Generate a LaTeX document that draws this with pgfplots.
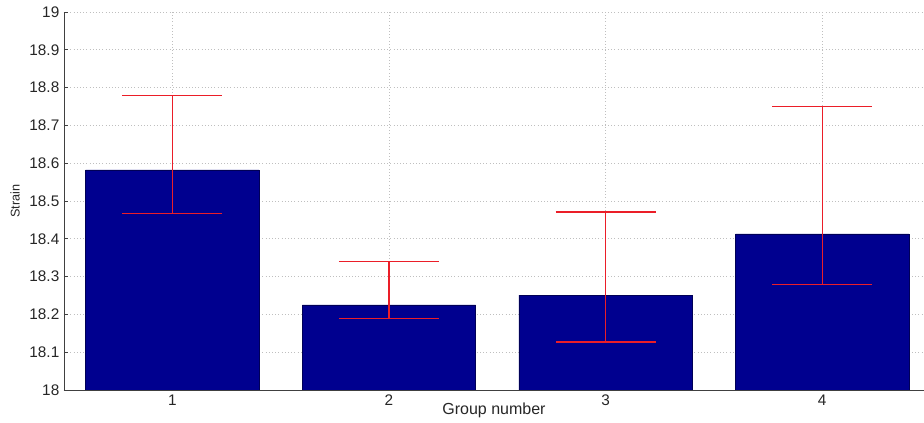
\documentclass[border=0pt]{standalone}
\usepackage{pgfplots}
\pgfplotsset{compat=1.18}
\usepackage{fontspec}
\setmainfont{Liberation Sans}
\definecolor{barblue}{RGB}{0,0,143}
\definecolor{errred}{RGB}{235,30,40}
\begin{document}
\begin{tikzpicture}
\path[use as bounding box] (-48pt,-24.75pt) rectangle (645pt,292.5pt);
\begin{axis}[
  at={(0,0)}, anchor=south west,
  scale only axis, width=645pt, height=283.5pt,
  xmin=0.5, xmax=4.47, ymin=18, ymax=19,
  axis x line*=bottom, axis y line*=left,
  axis line style={black!75, line width=0.7pt, -},
  xtick={1,2,3,4}, ytick={18,18.1,...,19.01},
  yticklabels={18,18.1,18.2,18.3,18.4,18.5,18.6,18.7,18.8,18.9,19},
  tick align=inside, major tick length=3pt,
  tick style={black!75, line width=0.5pt},
  grid=major, major grid style={gray!50, dotted, line width=0.5pt},
  /pgf/number format/assume math mode=true,
  tick label style={font=\fontsize{11.5}{13}\selectfont, text=black!85},
  xlabel={Group number}, ylabel={Strain},
  xlabel style={font=\fontsize{12}{14}\selectfont, text=black!85, at={(axis description cs:0.5,0)}, anchor=center, yshift=-15.5pt},
  ylabel style={font=\fontsize{9.5}{11}\selectfont, text=black!85, at={(axis description cs:-0.057,0.5)}, anchor=center},
  clip=true,
]
\addplot[ybar, bar width=0.8, fill=barblue, draw=barblue!60!black, line width=0.4pt]
  table[x=x, y=y] {
x y
1 18.582
2 18.225
3 18.251
4 18.413
};
\addplot[draw=none, mark=none, line width=0.85pt,
  error bars/.cd, y dir=both, y explicit,
  error bar style={draw=errred, line width=0.85pt, solid},
  error mark options={errred, line width=0.85pt, mark size=37.5pt, rotate=90}]
  table[x=x, y=y, y error plus=ep, y error minus=em] {
x y ep em
1 18.582 0.196 0.116
2 18.225 0.114 0.037
3 18.251 0.220 0.124
4 18.413 0.336 0.135
};
\end{axis}
\end{tikzpicture}
\end{document}
